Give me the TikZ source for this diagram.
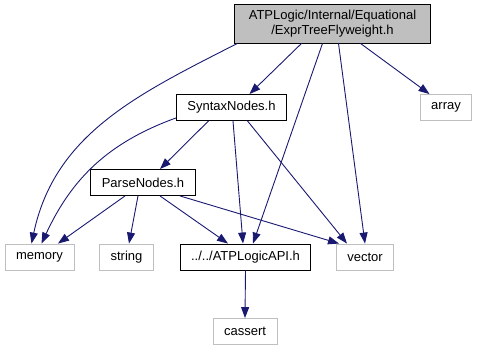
\documentclass[tikz,border=0pt]{standalone}
\usepackage{fontspec}
\setmainfont{Liberation Sans}
\usetikzlibrary{arrows.meta}
\definecolor{depblue}{HTML}{191970}
\definecolor{nodegray}{HTML}{BFBFBF}
\tikzset{every picture/.style={x=1pt,y=1pt},
  filenode/.style={rectangle, draw=black, fill=white, line width=0.9pt, minimum height=26pt,
    inner xsep=11pt, inner ysep=0pt, font=\fontsize{13}{15}\selectfont},
  sysnode/.style={filenode, draw=nodegray},
  rootnode/.style={filenode, fill=nodegray, inner xsep=14pt, minimum height=39pt, align=center},
  dep/.style={draw=depblue, line width=0.9pt, -{Triangle[length=11pt,width=8pt]}}}

\begin{document}
\begin{tikzpicture}
        \useasboundingbox (0, 0) rectangle (477, 351);

        \node[rootnode] (root) at (332.5, 327.5) {ATPLogic/Internal/Equational\\/ExprTreeFlyweight.h};
        \node[filenode] (syntax) at (231.5, 243.5) {SyntaxNodes.h};
        \node[sysnode] (array) at (446, 243.5) {array};
        \node[filenode] (parse) at (143, 168.5) {ParseNodes.h};
        \node[sysnode] (memory) at (39.5, 94) {memory};
        \node[sysnode] (string) at (126.5, 94) {string};
        \node[filenode] (api) at (245.5, 94) {../../ATPLogicAPI.h};
        \node[sysnode] (vector) at (365, 94) {vector};
        \node[sysnode] (cassert) at (245, 19.5) {cassert};

        % straight includes: source/shift/target/shift along south and north sides
        \foreach \from/\fs/\to/\ts in {
          root/-31/syntax/18, root/-10/api/7.5, root/6/vector/0, root/28/array/-16.5,
          syntax/-23/parse/17, syntax/1.5/api/-2.5, syntax/16/vector/-18,
          parse/-18/memory/18.5, parse/-5/string/2.5, parse/17/api/-17.5, parse/37/vector/-26,
          api/0/cassert/0}
        \draw[dep] ([xshift=\fs pt]\from.south) -- ([xshift=\ts pt]\to.north);

        % the two long ones bend down into memory
        \draw[dep] ([xshift=3pt]root.south west) to[out=207, in=78] ([xshift=-8pt]memory.north);
        \draw[dep] ([yshift=3pt]syntax.south west) to[out=200, in=65] ([xshift=2pt]memory.north);
\end{tikzpicture}
\end{document}
